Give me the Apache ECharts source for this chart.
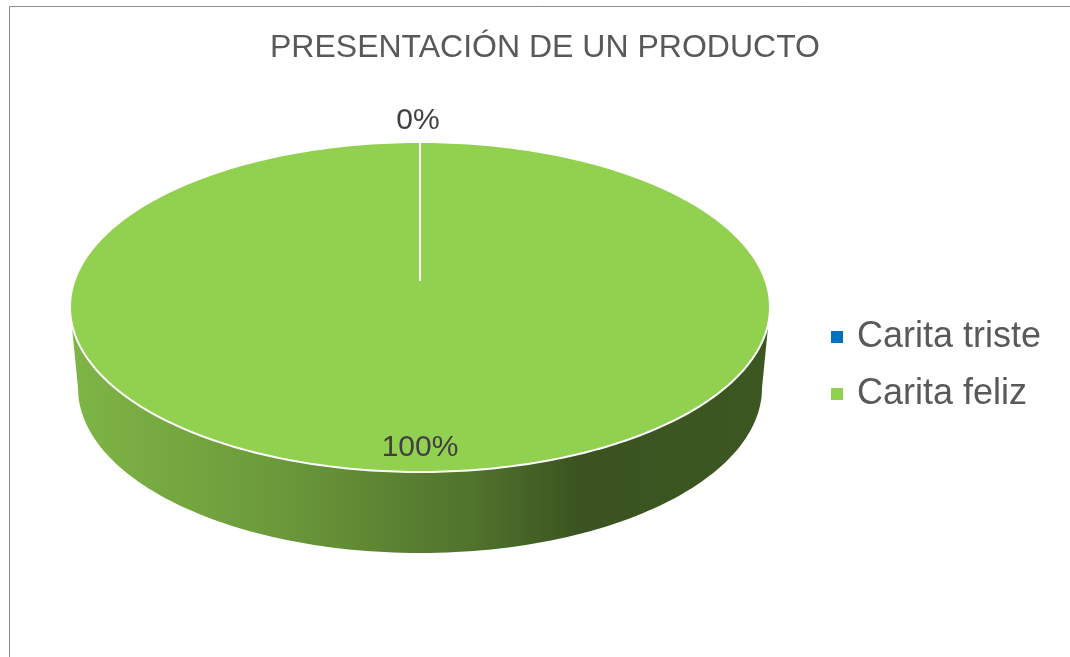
<!DOCTYPE html>
<html>
<head>
<meta charset="utf-8">
<script src="https://cdn.jsdelivr.net/npm/echarts@6/dist/echarts.min.js"></script>
<style>
  html, body { margin: 0; padding: 0; background: #fff; }
  #chart { width: 1070px; height: 657px; }
</style>
</head>
<body>
<div id="chart"></div>
<script>
  const titleText = 'PRESENTACIÓN DE UN PRODUCTO';
  const categories = ['Carita triste', 'Carita feliz'];
  const values = [0, 100];
  const sliceColors = ['#0070c0', '#92d050'];

  // 3d disc layout (pixels)
  const disc = {
    cx: 420, cy: 307, rx: 350, ry: 165,
    hubY: 280,            // perspective centre of the top face
    depth: 81, rxBottom: 342,
  };

  const total = values.reduce((a, b) => a + b, 0);
  const starts = [];
  let acc = 0;
  values.forEach((v) => { starts.push(acc / total); acc += v; });

  function angleOf(frac) {
    return -Math.PI / 2 + frac * Math.PI * 2;
  }

  function shade(hex, f) {
    const n = parseInt(hex.slice(1), 16);
    const r = Math.round(((n >> 16) & 255) * f);
    const g = Math.round(((n >> 8) & 255) * f);
    const b = Math.round((n & 255) * f);
    return 'rgb(' + r + ',' + g + ',' + b + ')';
  }

  function topPoint(a) {
    return [disc.cx + disc.rx * Math.cos(a), disc.cy + disc.ry * Math.sin(a)];
  }
  function bottomPoint(a) {
    return [disc.cx + disc.rxBottom * Math.cos(a), disc.cy + disc.depth + disc.ry * Math.sin(a)];
  }

  function sample(fn, a0, a1, steps) {
    const pts = [];
    for (let i = 0; i <= steps; i++) pts.push(fn(a0 + (a1 - a0) * i / steps));
    return pts;
  }

  function makeRenderItem(idx) {
    return function (params, api) {
      const value = api.value(0);
      const frac0 = starts[idx];
      const frac1 = frac0 + value / total;
      const a0 = angleOf(frac0);
      const a1 = angleOf(frac1);
      const color = sliceColors[idx];
      const children = [];

      // side wall: part of the slice that faces the viewer (0..PI)
      [0, Math.PI * 2].forEach((off) => {
        const s = Math.max(a0, off);
        const e = Math.min(a1, off + Math.PI);
        if (e > s) {
          const pts = sample(topPoint, s, e, 120).concat(sample(bottomPoint, e, s, 120));
          children.push({
            type: 'polygon',
            shape: { points: pts },
            style: {
              fill: {
                type: 'linear', x: 0, y: 0, x2: 1, y2: 0,
                colorStops: [
                  { offset: 0, color: shade(color, 0.87) },
                  { offset: 0.29, color: shade(color, 0.74) },
                  { offset: 0.58, color: shade(color, 0.55) },
                  { offset: 0.73, color: shade(color, 0.40) },
                  { offset: 1, color: shade(color, 0.42) },
                ],
              },
            },
          });
        }
      });

      // top face
      const steps = Math.max(2, Math.ceil((a1 - a0) / (Math.PI * 2) * 360));
      const topPts = [[disc.cx, disc.hubY]].concat(sample(topPoint, a0, a1, steps));
      children.push({
        type: 'polygon',
        shape: { points: topPts },
        style: { fill: value > 0 ? color : 'none', stroke: '#ffffff', lineWidth: 2, lineJoin: 'round' },
      });

      // percent label
      const mid = (a0 + a1) / 2;
      const pct = Math.round(value / total * 100) + '%';
      let lx, ly;
      if (value / total > 0.25) {
        lx = disc.cx + disc.rx * 0.85 * Math.cos(mid);
        ly = disc.cy + disc.ry * 0.85 * Math.sin(mid);
      } else {
        lx = disc.cx + (disc.rx + 20) * Math.cos(mid) - 2;
        ly = disc.cy + (disc.ry + 21) * Math.sin(mid);
      }
      children.push({
        type: 'text',
        x: lx, y: ly,
        style: {
          text: pct,
          fill: '#404040',
          font: '30px "Liberation Sans", Arial, sans-serif',
          align: 'center',
          verticalAlign: 'middle',
        },
      });

      return { type: 'group', children: children };
    };
  }

  const chart = echarts.init(document.getElementById('chart'), null, { renderer: 'canvas' });

  const series = categories.map((name, i) => ({
    name: name,
    type: 'custom',
    coordinateSystem: 'none',
    z: i === 0 ? 3 : 2,
    itemStyle: { color: sliceColors[i] },
    renderItem: makeRenderItem(i),
    data: [[values[i]]],
    animation: false,
  }));

  chart.setOption({
    backgroundColor: '#ffffff',
    animation: false,
    title: {
      text: titleText,
      left: 540,
      top: 27,
      textAlign: 'center',
      textStyle: {
        color: '#595959',
        fontFamily: '"Liberation Sans", Arial, sans-serif',
        fontSize: 32,
        fontWeight: 'normal',
      },
    },
    legend: {
      data: categories,
      orient: 'vertical',
      left: 831,
      top: 319,
      padding: 0,
      itemWidth: 12,
      itemHeight: 12,
      itemGap: 21,
      icon: 'rect',
      selectedMode: false,
      textStyle: {
        color: '#595959',
        fontFamily: '"Liberation Sans", Arial, sans-serif',
        fontSize: 36,
        padding: [0, 0, 0, 9],
      },
    },
    graphic: [
      {
        type: 'rect',
        silent: true,
        shape: { x: 9.5, y: 6.5, width: 1100, height: 700 },
        style: { fill: 'none', stroke: '#8c8c8c', lineWidth: 1 },
      },
    ],
    series: series,
  });
</script>
</body>
</html>
